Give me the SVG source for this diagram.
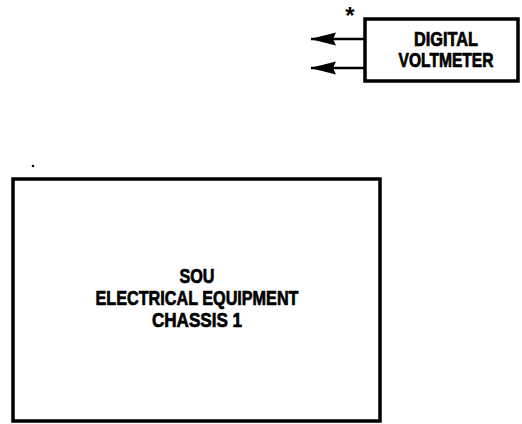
<svg xmlns="http://www.w3.org/2000/svg" width="522" height="424" viewBox="0 0 522 424">
<defs>
<style>
.box{fill:#fff;stroke:#000;stroke-width:3.5}
.lbl{font-family:"Liberation Sans",Arial,sans-serif;font-weight:bold;font-size:20px;fill:#000;stroke:#000;stroke-width:0.7;text-anchor:middle}
.wire{stroke:#000;stroke-width:2.5;fill:none}
</style>
<marker id="ah" markerUnits="userSpaceOnUse" markerWidth="26" markerHeight="14" refX="25" refY="7" orient="auto">
<path d="M26,7 L0,0.5 L3,7 L0,13.5 Z" fill="#000"/>
</marker>
</defs>
<rect width="522" height="424" fill="#fff"/>
<g id="connectors">
<line class="wire" x1="365" y1="39" x2="311" y2="39" marker-end="url(#ah)"/>
<line class="wire" x1="365" y1="68" x2="311" y2="68" marker-end="url(#ah)"/>
<text x="350" y="24" font-family="Liberation Sans,Arial,sans-serif" font-weight="bold" font-size="24" text-anchor="middle">*</text>
</g>
<g id="dvm">
<rect class="box" x="365" y="19" width="153" height="62"/>
<text class="lbl" x="446" y="46" textLength="64" lengthAdjust="spacingAndGlyphs">DIGITAL</text>
<text class="lbl" x="446" y="67" textLength="95" lengthAdjust="spacingAndGlyphs">VOLTMETER</text>
</g>
<g id="sou">
<rect class="box" x="13" y="179" width="367" height="242"/>
<text class="lbl" x="197" y="283" textLength="35" lengthAdjust="spacingAndGlyphs">SOU</text>
<text class="lbl" x="197" y="305" textLength="203" lengthAdjust="spacingAndGlyphs">ELECTRICAL EQUIPMENT</text>
<text class="lbl" x="197" y="327" textLength="90" lengthAdjust="spacingAndGlyphs">CHASSIS 1</text>
</g>
<circle cx="33" cy="166" r="1.3" fill="#000"/>
</svg>
